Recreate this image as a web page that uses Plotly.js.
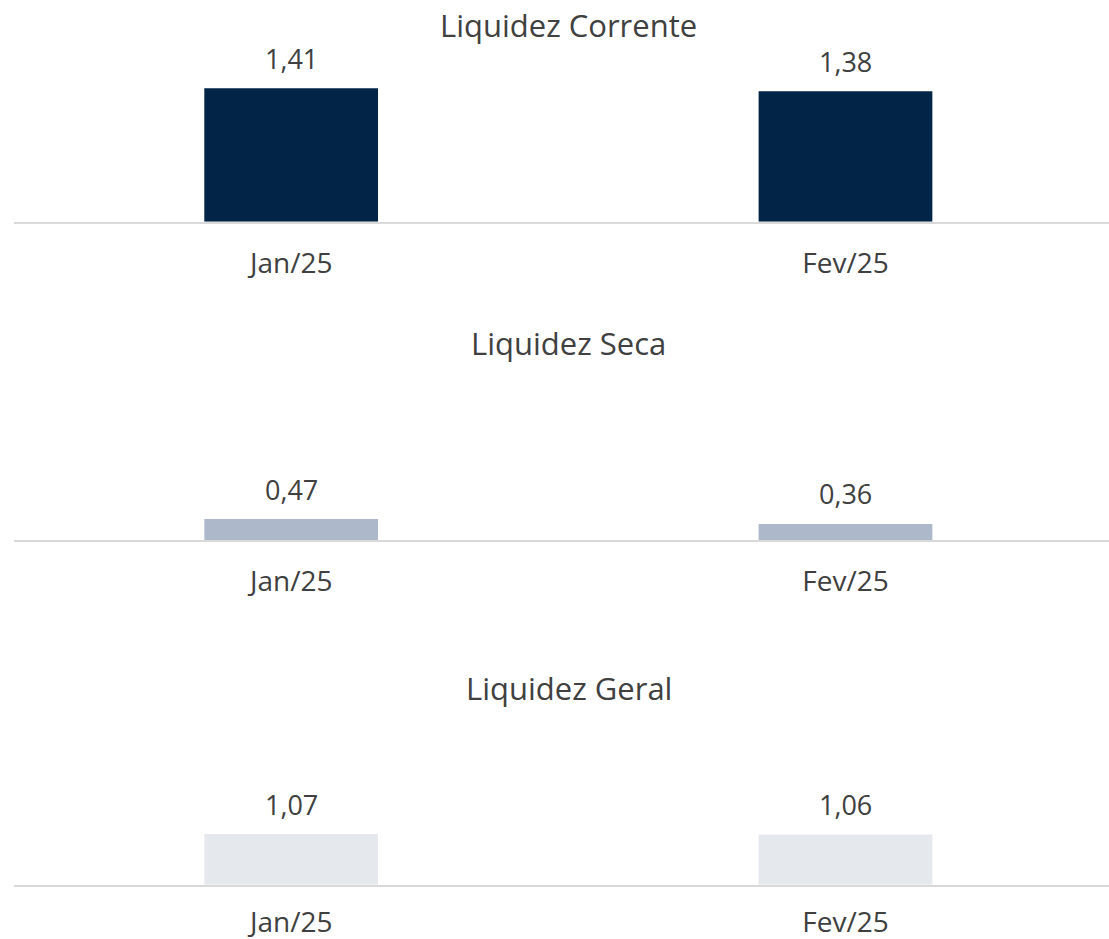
<!DOCTYPE html>
<html>
<head>
<meta charset="utf-8">
<script src="https://cdn.plot.ly/plotly-3.0.1.min.js"></script>
<style>
html,body{margin:0;padding:0;background:#fff;}
#chart{width:1109px;height:939px;}
</style>
</head>
<body>
<div id="chart"></div>
<script>
// ---- data ----
const categories = ["Jan/25", "Fev/25"];
const titles = ["Liquidez Corrente", "Liquidez Seca", "Liquidez Geral"];
const liquidezCorrente = [1.41, 1.38];
const liquidezSeca = [0.47, 0.36];
const liquidezGeral = [1.07, 1.06];

const series = [liquidezCorrente, liquidezSeca, liquidezGeral];
const colors = ["#012447", "#ADB9CA", "#E5E8ED"];
const textColor = "#404040";
const font = "Open Sans, Noto Sans, sans-serif";

// panel layout
const panels = [
  {dom: [0.7639, 1.0], ymax: 2.344, titleY: 0.9739, standoff: 16},
  {dom: [0.4246, 0.60], ymax: 3.636, titleY: 0.6347, standoff: 15},
  {dom: [0.0578, 0.24], ymax: 3.61, titleY: 0.2673, standoff: 12}
];

const fmt = v => v.toFixed(2).replace(".", ",");

const data = [];
const annotations = [];
const layout = {
  width: 1109, height: 939,
  margin: {l: 14, r: 0, t: 0, b: 0},
  paper_bgcolor: "#fff", plot_bgcolor: "#fff",
  showlegend: false,
  font: {family: font, color: textColor},
  annotations: annotations
};

series.forEach((vals, i) => {
  const sfx = i === 0 ? "" : String(i + 1);
  const xa = "x" + sfx, ya = "y" + sfx;
  data.push({
    type: "bar", x: categories, y: vals, xaxis: xa, yaxis: ya,
    width: 0.3134,
    marker: {color: colors[i], line: {width: 0}},
    hoverinfo: "skip"
  });
  layout["xaxis" + sfx] = {
    anchor: ya, domain: [0, 1], type: "category",
    range: [-0.5, 1.4754], fixedrange: true,
    showline: true, linecolor: "#D9D9D9", linewidth: 2,
    showgrid: false, zeroline: false, ticks: "",
    ticklabelstandoff: panels[i].standoff,
    tickfont: {family: font, size: 28, color: textColor}
  };
  layout["yaxis" + sfx] = {
    anchor: xa, domain: panels[i].dom, range: [0, panels[i].ymax],
    visible: false, fixedrange: true, showgrid: false, zeroline: false
  };
  annotations.push({
    xref: "paper", yref: "paper", x: 0.5064, y: panels[i].titleY,
    xanchor: "center", yanchor: "middle", showarrow: false,
    text: titles[i], font: {family: font, size: 31, color: textColor}
  });
  vals.forEach((v, j) => {
    annotations.push({
      xref: xa, yref: ya, x: categories[j], y: v,
      xanchor: "center", yanchor: "middle", yshift: 30, showarrow: false,
      text: fmt(v), font: {family: font, size: 27, color: textColor}
    });
  });
});

Plotly.newPlot("chart", data, layout, {displayModeBar: false, staticPlot: true});
</script>
</body>
</html>
